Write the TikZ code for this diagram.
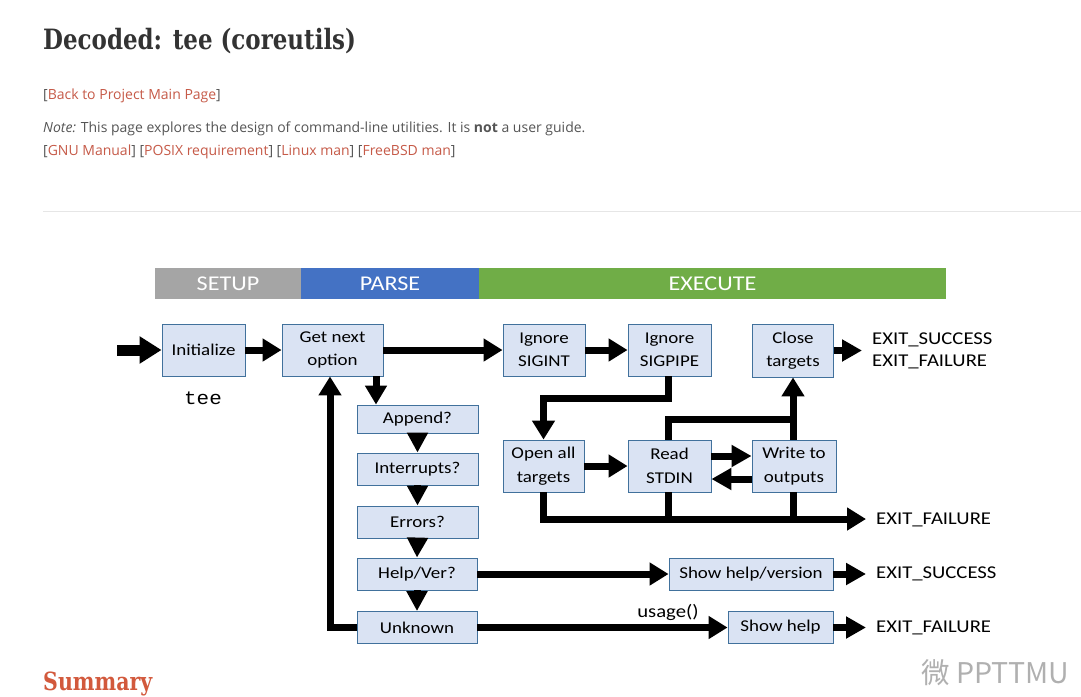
\documentclass[tikz,border=0pt]{standalone}
\usepackage{fontspec}
\setmainfont{Open Sans}
\newfontfamily\diag[FakeStretch=1.15]{Carlito}
\newfontfamily\titlefont[FakeStretch=0.82]{DejaVu Serif}
\newfontfamily\teefont[FakeStretch=1.1]{Liberation Mono}
\newfontfamily\cjk{Noto Sans CJK SC}
\usetikzlibrary{arrows.meta}
\definecolor{boxfill}{HTML}{DAE3F3}
\definecolor{boxline}{HTML}{41719C}
\definecolor{bandgray}{HTML}{A5A5A5}
\definecolor{bandblue}{HTML}{4472C4}
\definecolor{bandgreen}{HTML}{70AD47}
\definecolor{pgray}{HTML}{555555}
\definecolor{plink}{HTML}{C65A48}
\definecolor{ptitle}{HTML}{333333}
\definecolor{psum}{HTML}{D2593C}
\definecolor{hrline}{HTML}{E6E6E6}
\definecolor{wmark}{HTML}{B0B0B0}
\begin{document}
\begin{tikzpicture}[x=1pt,y=-1pt,
  box/.style={draw=boxline, fill=boxfill, line width=0.9pt, align=center, inner sep=0pt,
    font=\diag\fontsize{16.5}{23.5}\selectfont},
  arr/.style={line width=7pt, -{Triangle[length=19pt,width=22pt]}},
  ln/.style={line width=7pt},
  exitlbl/.style={font=\diag\fontsize{18}{21.5}\selectfont, anchor=west, inner sep=0pt, align=left},
  band/.style={minimum height=31pt, inner sep=0pt, text=white, font=\diag\fontsize{21}{24}\selectfont},
  ptext/.style={anchor=base west, inner sep=0pt, text=pgray, font=\fontsize{14}{17}\selectfont}
]
\useasboundingbox (0,0) rectangle (1081,696);
\fill[white] (0,0) rectangle (1081,696);

% page header
\node[anchor=base west, inner sep=0pt, text=ptitle, font=\titlefont\bfseries\fontsize{28}{32}\selectfont] (title) at (43,49) {Decoded: tee (coreutils)};
\node[ptext] (back) at (43,99) {[\textcolor{plink}{Back to Project Main Page}]};
\node[ptext] (note) at (43,132) {\textit{Note:} This page explores the design of command-line utilities. It is \textbf{not} a user guide.};
\node[ptext] (links) at (43,155) {[\textcolor{plink}{GNU Manual}] [\textcolor{plink}{POSIX requirement}] [\textcolor{plink}{Linux man}] [\textcolor{plink}{FreeBSD man}]};
\draw[hrline, line width=1pt] (43,211) -- (1081,211);

% bands
\node[band, fill=bandgray, minimum width=146pt] (setup) at (228,283.5) {SETUP};
\node[band, fill=bandblue, minimum width=178pt] (parse) at (390,283.5) {PARSE};
\node[band, fill=bandgreen, minimum width=467pt] (execute) at (712.5,283.5) {EXECUTE};

% boxes
\node[box, minimum width=83pt, minimum height=52pt] (init) at (203.5,350) {Initialize};
\node[box, minimum width=101pt, minimum height=52pt] (getnext) at (332.5,350) {Get next\\option};
\node[box, minimum width=82pt, minimum height=52pt] (sigint) at (544,350) {Ignore\\SIGINT};
\node[box, minimum width=83pt, minimum height=52pt] (sigpipe) at (669.5,350) {Ignore\\SIGPIPE};
\node[box, minimum width=81pt, minimum height=53pt] (close) at (793,350.5) {Close\\targets};
\node[box, minimum width=121pt, minimum height=28pt] (append) at (417.5,419) {Append?};
\node[box, minimum width=121pt, minimum height=32pt] (interr) at (417.5,469) {Interrupts?};
\node[box, minimum width=121pt, minimum height=32pt] (errors) at (417.5,522) {Errors?};
\node[box, minimum width=120pt, minimum height=32pt] (helpver) at (417,574) {Help/Ver?};
\node[box, minimum width=120pt, minimum height=32pt] (unknown) at (417,627.5) {Unknown};
\node[box, minimum width=81pt, minimum height=52pt] (openall) at (543.5,466) {Open all\\targets};
\node[box, minimum width=83pt, minimum height=52pt] (read) at (669.5,466) {Read\\STDIN};
\node[box, minimum width=84pt, minimum height=52pt] (write) at (794,466) {Write to\\outputs};
\node[box, minimum width=164pt, minimum height=32pt] (showhv) at (751,574) {Show help/version};
\node[box, minimum width=105pt, minimum height=32pt] (showhelp) at (780.5,627.5) {Show help};

% labels
\node[exitlbl] (exit1) at (872,351) {EXIT\_SUCCESS\\EXIT\_FAILURE};
\node[exitlbl] (exit2) at (876,520) {EXIT\_FAILURE};
\node[exitlbl] (exit3) at (876,574) {EXIT\_SUCCESS};
\node[exitlbl] (exit4) at (876,627.5) {EXIT\_FAILURE};
\node[inner sep=0pt, font=\teefont\fontsize{19}{22}\selectfont] (tee) at (203,398) {tee};
\node[inner sep=0pt, font=\diag\fontsize{18}{21}\selectfont] (usage) at (668,612) {usage()};

% coordinates
\coordinate (start) at (117,350);
\coordinate (ef) at (866,519);
\coordinate (e1) at (862,350.5);
\coordinate (e3) at (866,574);
\coordinate (e4) at (866,627.5);

% connectors
\draw[line width=11pt, -{Triangle[length=22pt,width=26pt]}] (start) -- (init.west);
\draw[arr] (init.east) -- (getnext.west);
\draw[arr] (getnext.east) -- (sigint.west);
\draw[arr] (sigint.east) -- (sigpipe.west);
\draw[arr, -{Triangle[length=20pt,width=21pt]}] (close.east) -- (e1);
\draw[arr, -{Triangle[length=19pt,width=21pt]}] (376,0 |- getnext.south) -- (376,0 |- append.north);
\draw[arr, -{Triangle[length=20pt,width=20pt]}] (append.south) -- (interr.north);
\draw[arr, -{Triangle[length=20pt,width=20pt]}] (interr.south) -- (errors.north);
\draw[arr, -{Triangle[length=20pt,width=20pt]}] (errors.south) -- (helpver.north);
\draw[arr, -{Triangle[length=20pt,width=20pt]}] (helpver.south) -- (unknown.north);
\draw[arr, line join=miter] (unknown.west) -| (330,0 |- getnext.south);
\draw[arr] (helpver.east) -- (showhv.west);
\draw[arr] (unknown.east) -- (showhelp.west);
\draw[arr, -{Triangle[length=20pt,width=21pt]}] (showhv.east) -- (e3);
\draw[arr, -{Triangle[length=20pt,width=21pt]}] (showhelp.east) -- (e4);
\draw[arr, line join=miter] (668,0 |- sigpipe.south) -- (668,398) -| (openall.north);
\draw[arr] (openall.east) -- (read.west);
\draw[arr, -{Triangle[length=20pt,width=21pt]}] (read.east |- 0,456) -- (write.west |- 0,456);
\draw[arr, -{Triangle[length=20pt,width=21pt]}] (write.west |- 0,479) -- (read.east |- 0,479);
\draw[arr, line join=miter] (668,0 |- read.north) -- (668,419) -| (close.south);
\draw[ln] (793,0 |- write.north) -- (793,419);
\draw[arr, line join=miter] (openall.south) -- (openall.south |- ef) -- (ef);
\draw[ln] (668,0 |- read.south) -- (668,519);
\draw[ln] (793,0 |- write.south) -- (793,519);

% footer
\node[anchor=base west, inner sep=0pt, text=psum, font=\titlefont\bfseries\fontsize{25}{30}\selectfont] (summary) at (43,690) {Summary};
\node[anchor=base west, inner sep=0pt, text=wmark, font=\cjk\fontsize{28.5}{30}\selectfont] (wm) at (921,683) {微 PPTTMU};
\end{tikzpicture}
\end{document}
